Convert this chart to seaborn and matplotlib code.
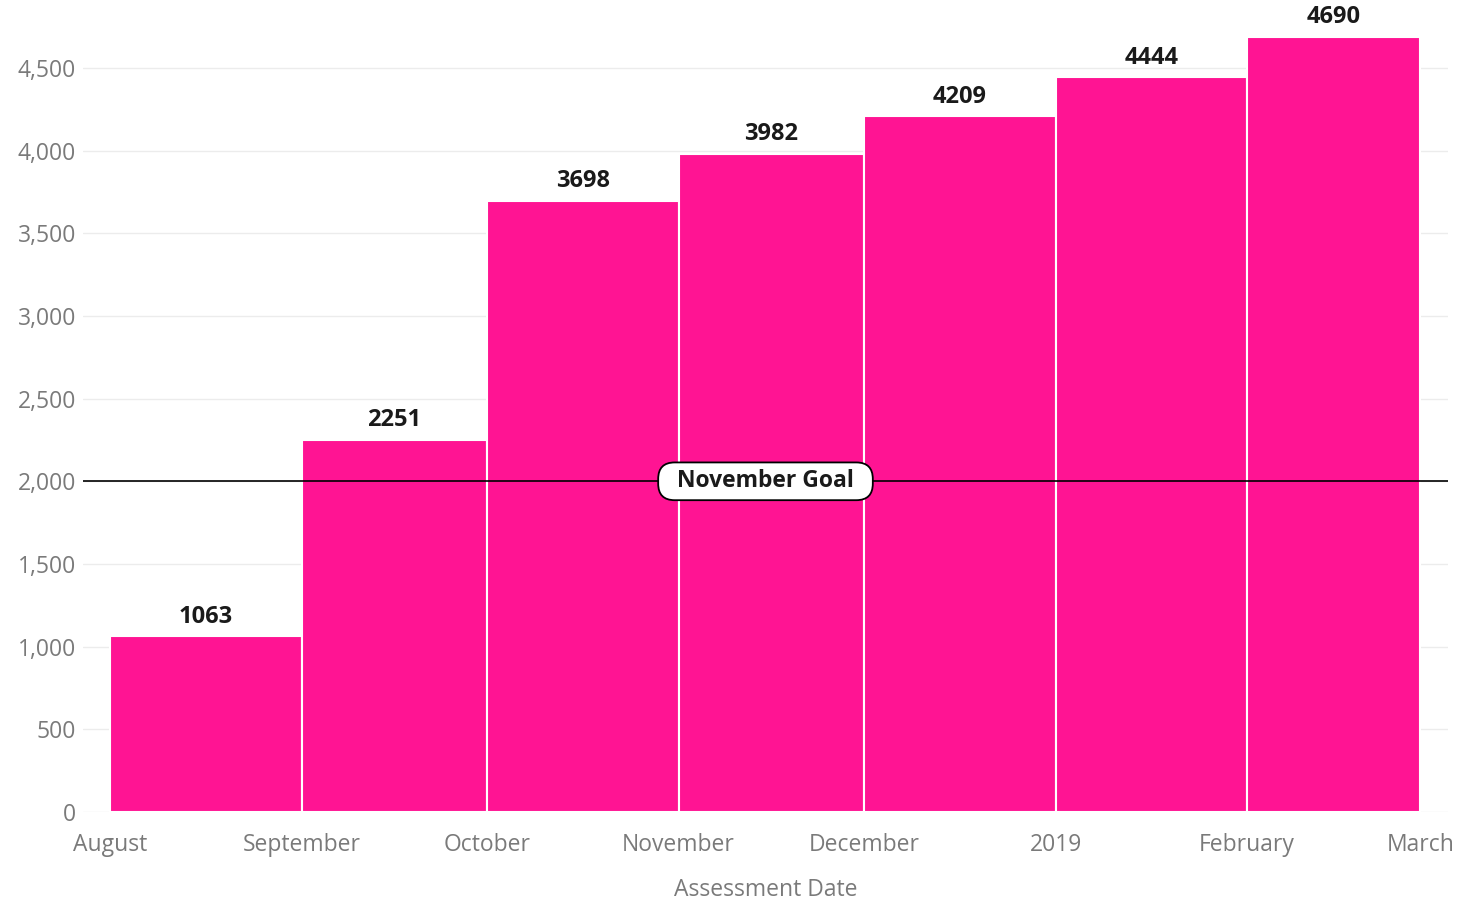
import matplotlib
matplotlib.use("Agg")
import matplotlib.pyplot as plt
import matplotlib.dates as mdates
import seaborn as sns
import numpy as np
import pandas as pd

# ---- data ----
month_starts = ["2018-08-01", "2018-09-01", "2018-10-01", "2018-11-01",
                "2018-12-01", "2019-01-01", "2019-02-01", "2019-03-01"]
tick_labels = ["August", "September", "October", "November",
               "December", "2019", "February", "March"]
values = [1063, 2251, 3698, 3982, 4209, 4444, 4690]
goal_value = 2000
goal_label = "November Goal"

sns.set_theme(style="white")
plt.rcParams['font.family'] = ['Open Sans', 'DejaVu Sans']

edges = [float(e) for e in mdates.date2num(pd.to_datetime(month_starts).to_pydatetime())]
mids = [(a + b) / 2 for a, b in zip(edges[:-1], edges[1:])]
df = pd.DataFrame({"date": mids, "count": [float(v) for v in values]})

fig = plt.figure(figsize=(14.61, 9.07), dpi=100)
ax = fig.add_axes([83/1461, 95/907, (1448-83)/1461, 812/907])

sns.histplot(data=df, x="date", weights="count", bins=edges, ax=ax,
             color="#FF1493", alpha=1, edgecolor="white", linewidth=1.5)

ax.set_xlim(edges[0] - 4.4, edges[-1] + 4.5)
ax.set_ylim(0, 4911)
ax.set_yticks(np.arange(0, 4501, 500))
ax.set_yticklabels([f"{v:,}" for v in range(0, 4501, 500)])
ax.set_xticks(edges)
ax.set_xticklabels(tick_labels)
ax.tick_params(axis="y", colors="#7a7a7a", labelsize=16.5, length=0, pad=5)
ax.tick_params(axis="x", colors="#7a7a7a", labelsize=16.5, length=0, pad=15)
ax.yaxis.grid(True, color="#ececec", linewidth=1)
ax.set_axisbelow(True)
for s in ax.spines.values():
    s.set_visible(False)
ax.set_ylabel("")
ax.set_xlabel("Assessment Date", color="#7a7a7a", fontsize=16.5, labelpad=15)

for m, v in zip(mids, values):
    ax.text(m, v + 45, str(v), ha="center", va="bottom", fontsize=17,
            fontweight="bold", color="#1a1a1a")

ax.axhline(goal_value, color="black", linewidth=1.2, zorder=5)
ax.text(0.5, goal_value, "  " + goal_label + "  ", transform=ax.get_yaxis_transform(),
        ha="center", va="center", fontsize=16.5, fontweight="bold",
        color="#1a1a1a", zorder=6,
        bbox=dict(boxstyle="round,pad=0.3,rounding_size=0.72",
                  fc="white", ec="black", lw=1.3))

fig.savefig("out.png", dpi=100)
